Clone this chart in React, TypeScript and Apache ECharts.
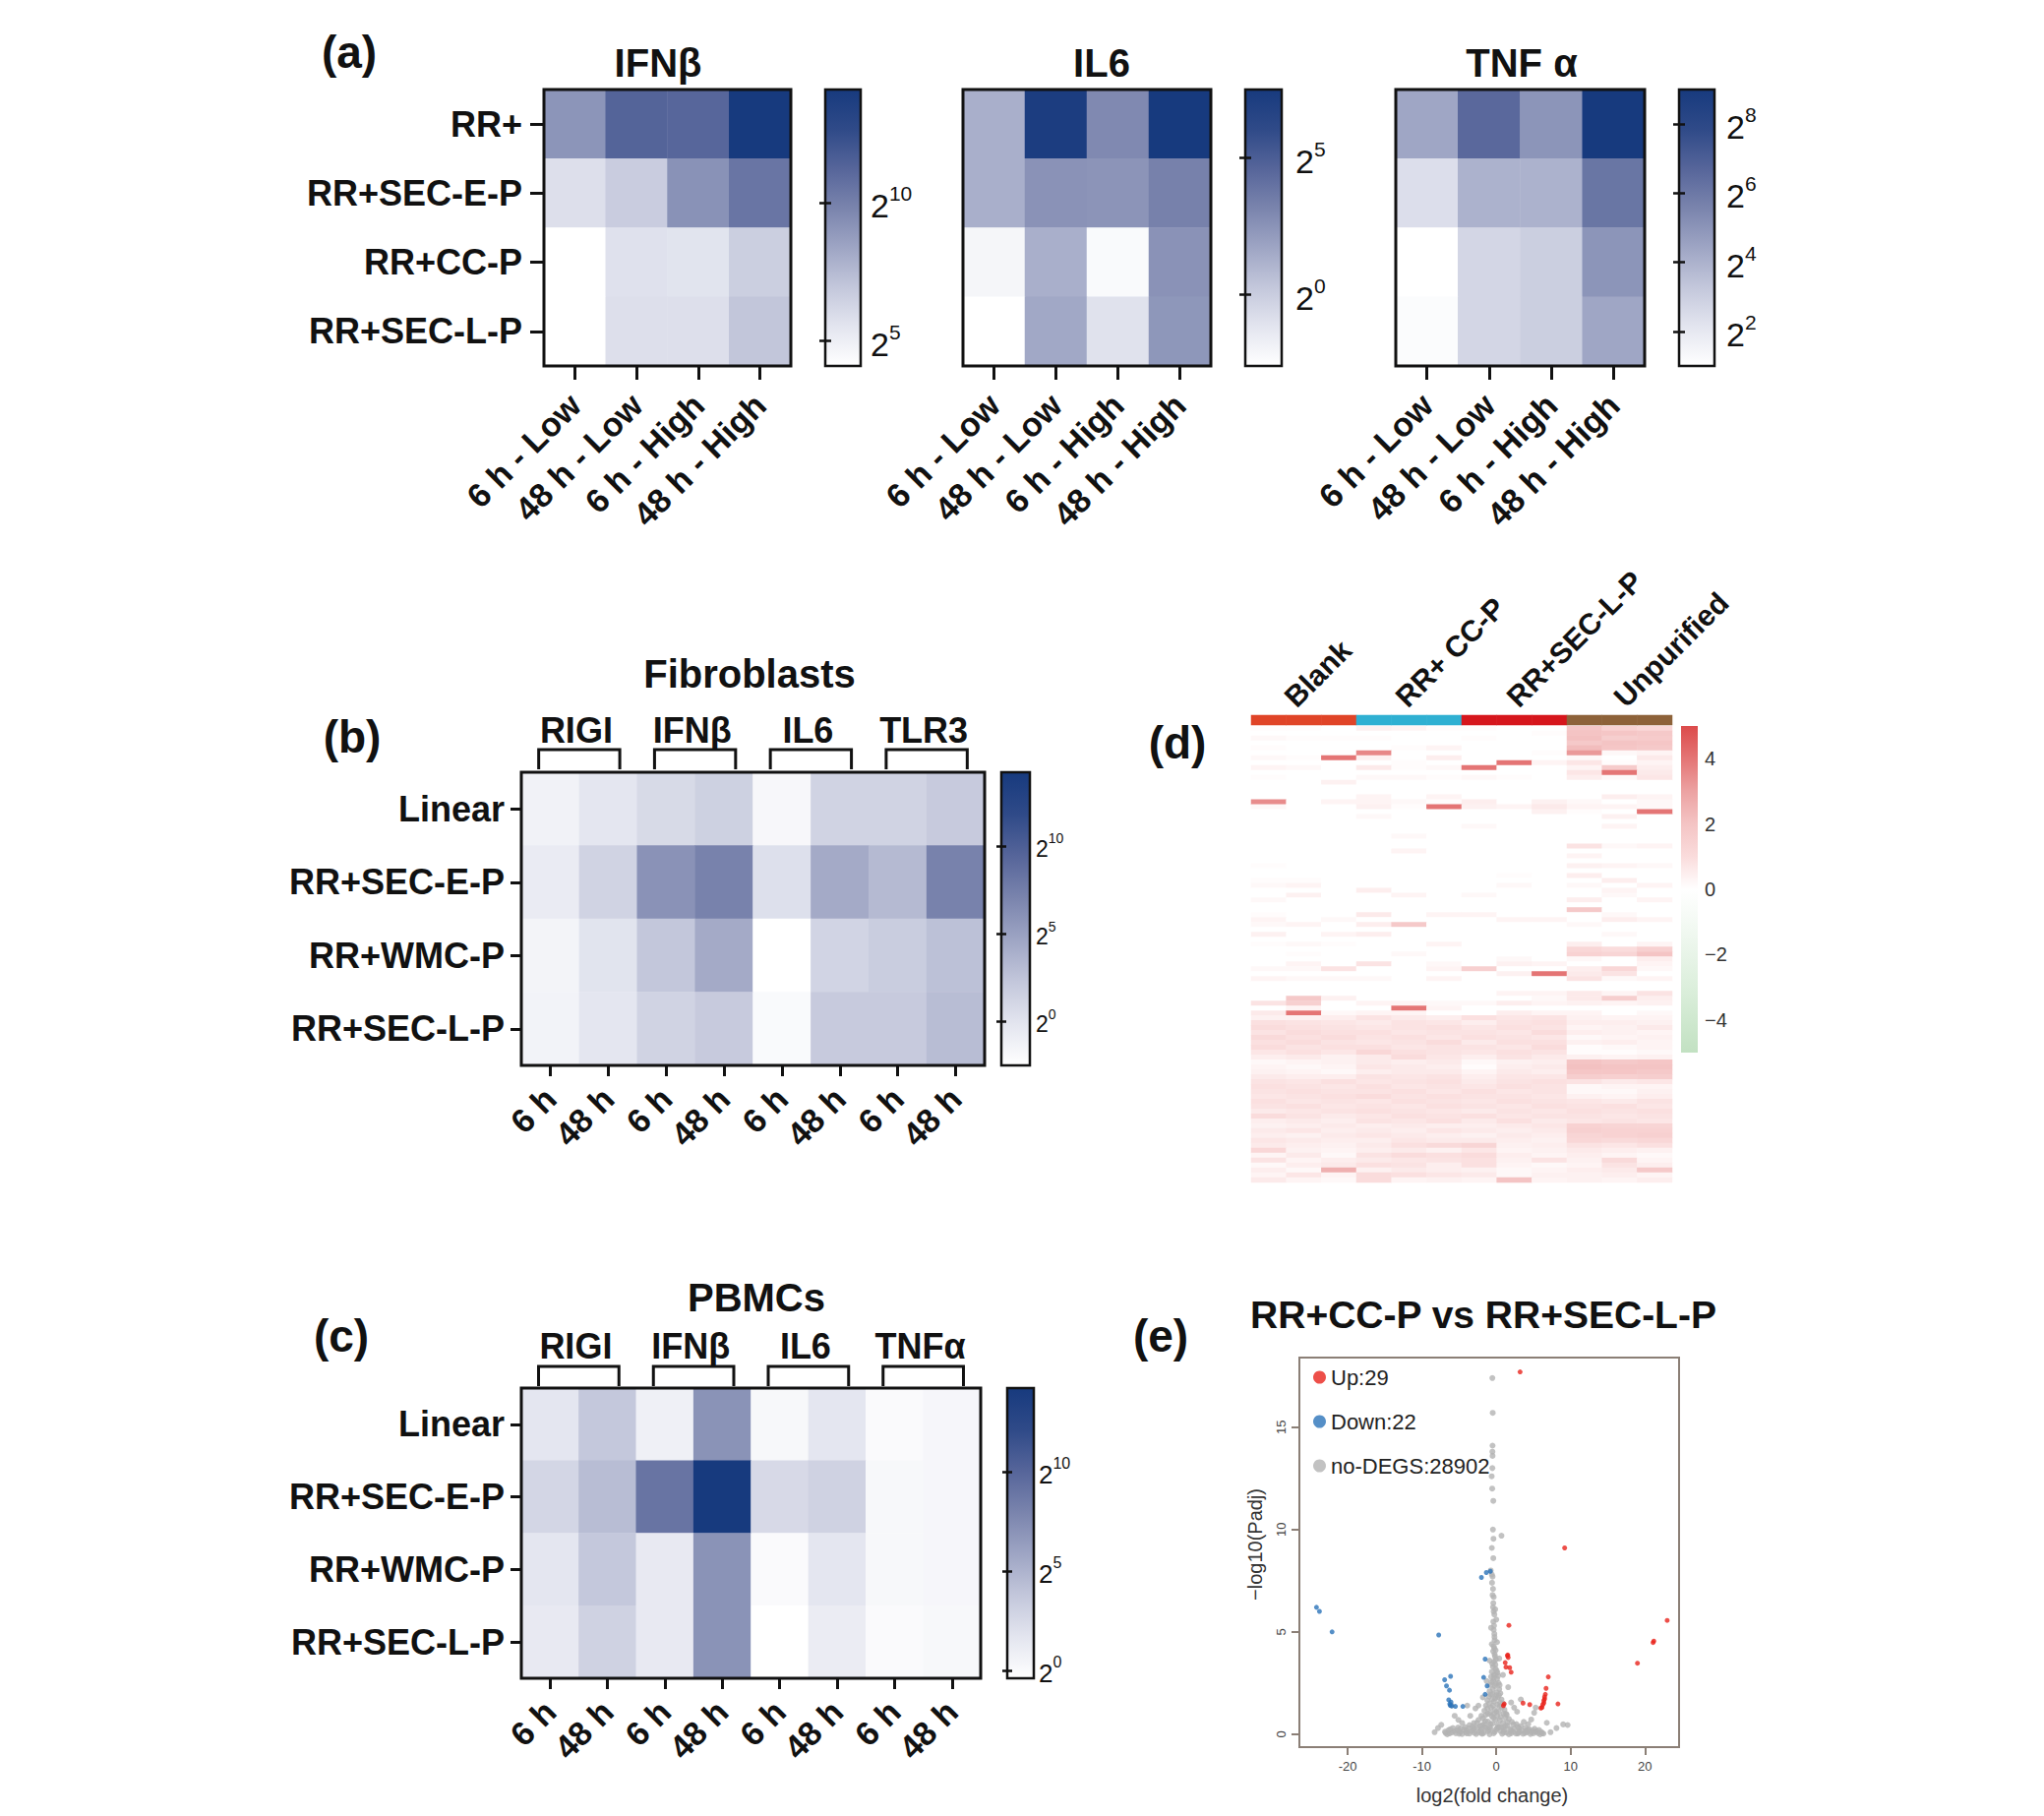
import React, { useEffect, useRef } from 'react';
import * as echarts from 'echarts';

const FONT = '"Liberation Sans", Arial, Helvetica, sans-serif';
const INK = '#111111';

// ---------------- DATA ----------------
// (a)
const aRows = ['RR+', 'RR+SEC-E-P', 'RR+CC-P', 'RR+SEC-L-P'];
const aCols = ['6 h - Low', '48 h - Low', '6 h - High', '48 h - High'];
const aTitles = ['IFNβ', 'IL6', 'TNF α'];
const aIFNb = [[9.1, 11.3, 11.2, 14.1], [5.8, 6.7, 9.2, 10.5], [4.1, 5.7, 5.6, 6.6], [4.1, 5.8, 5.8, 7.0]];
const aIL6 = [[1.3, 7.2, 2.95, 7.5], [1.3, 2.55, 2.45, 3.3], [-2.1, 1.3, -2.3, 2.55], [-2.6, 1.6, -1.0, 2.35]];
const aTNFa = [[4.4, 6.6, 5.0, 9.0], [2.4, 4.0, 4.0, 6.1], [1.0, 2.7, 3.0, 5.0], [1.15, 2.7, 3.0, 4.4]];
const aRanges = [[4.1, 14.1], [-2.6, 7.5], [1, 9]];
const aTicks = [[5, 10], [0, 5], [2, 4, 6, 8]];

// (b)
const bRows = ['Linear', 'RR+SEC-E-P', 'RR+WMC-P', 'RR+SEC-L-P'];
const bCols = ['6 h', '48 h', '6 h', '48 h', '6 h', '48 h', '6 h', '48 h'];
const bGenes = ['RIGI', 'IFNβ', 'IL6', 'TLR3'];
const bVals = [
  [-1.3, -0.2, 0.8, 1.5, -1.8, 1.3, 1.3, 2.0],
  [-0.7, 1.3, 6.0, 7.2, 0.3, 4.3, 3.2, 7.2],
  [-1.5, 0.0, 2.3, 4.3, -2.5, 1.2, 1.8, 2.7],
  [-1.4, -0.2, 1.3, 2.0, -2.0, 2.0, 2.0, 3.0],
];
const bRange = [-2.5, 14.2];
const bTicks = [0, 5, 10];

// (c)
const cRows = ['Linear', 'RR+SEC-E-P', 'RR+WMC-P', 'RR+SEC-L-P'];
const cCols = ['6 h', '48 h', '6 h', '48 h', '6 h', '48 h', '6 h', '48 h'];
const cGenes = ['RIGI', 'IFNβ', 'IL6', 'TNFα'];
const cVals = [
  [1.6, 3.7, 0.8, 7.0, 0.2, 1.6, 0.0, 0.3],
  [2.7, 4.4, 9.0, 14.2, 2.5, 3.0, 0.2, 0.3],
  [1.6, 3.7, 1.35, 7.0, 0.0, 1.6, 0.2, 0.3],
  [1.35, 3.0, 1.35, 7.0, -0.4, 1.1, 0.0, 0.2],
];
const cRange = [-0.4, 14.2];
const cTicks = [0, 5, 10];

// (d)
const dGroups = ['Blank', 'RR+ CC-P', 'RR+SEC-L-P', 'Unpurified'];
const dGroupColors = ['#e04427', '#2fb0d2', '#d6161c', '#8d6239'];
const dSamples = ['B1', 'B2', 'B3', 'C1', 'C2', 'C3', 'S1', 'S2', 'S3', 'U1', 'U2', 'U3'];
const dSampleGroup = [0, 0, 0, 1, 1, 1, 2, 2, 2, 3, 3, 3];
const dRange = [-5, 5];
const dTicks = [-4, -2, 0, 2, 4];
const dMatrix = [
  [0.1, 0.1, 0, 0.4, 0.3, 0.1, 0.1, 0, 0, 1.9, 1.4, 1.2],
  [0, 0, 0, 0, 0, 0, 0, 0, 0.1, 2.0, 1.9, 1.8],
  [0.2, 0.1, 0.1, 0.1, 0, 0, 0.1, 0, 0, 2.1, 1.6, 1.7],
  [0, 0, 0, 0, 0, 0, 0, 0, 0, 1.8, 2.0, 1.9],
  [0.1, 0, 0, 0, 0.1, 0.3, 0, 0, 0, 2.2, 1.9, 1.8],
  [0, 0, 0, 3.6, 0, 0, 0, 0, 0.1, 3.2, 0.2, 0.3],
  [0.2, 0.1, 4.0, 0.4, 0, 0.5, 0, 0, 0, 0.2, 0, 0.6],
  [0, 0, 0, 0, 0.1, 0, 0, 4.0, 0.3, 0.7, 0.1, 0.3],
  [0.3, 0.2, 0, 0.6, 0.1, 0.2, 4.0, 0, 0, 0.3, 1.7, 0.5],
  [0, 0, 0, 0, 0, 0, 0, 0, 0, 0.7, 4.0, 0.6],
  [0.1, 0, 0, 0.2, 0.2, 0.1, 0.2, 0.1, 0, 0.5, 0.2, 0.7],
  [0, 0, 0.4, 0, 0, 0, 0, 0, 0, 0, 0, 0],
  [0, 0, 0, 0, 0, 0, 0, 0, 0, 0, 0, 0],
  [0, 0, 0, 0, 0, 0, 0, 0, 0, 0, 0, 0],
  [0, 0, 0, 0.3, 0, 0.3, 0, 0, 0, 0, 0.5, 0.3],
  [3.5, 0, 0.3, 0.3, 0.2, 0.1, 0.5, 0, 0.4, 0.2, 0, 0.2],
  [0.2, 0, 0, 0.4, 0.1, 4.0, 0.4, 0.3, 0.6, 0.3, 0.3, 0.2],
  [0, 0, 0, 0, 0, 0, 0, 0, 0.4, 0.1, 0, 4.0],
  [0, 0, 0, 0.2, 0, 0, 0, 0, 0, 0, 0.4, 0],
  [0, 0, 0, 0, 0, 0, 0, 0, 0, 0, 0, 0],
  [0, 0, 0, 0, 0, 0, 0.2, 0, 0, 0, 0.3, 0],
  [0, 0, 0, 0, 0, 0, 0, 0, 0, 0, 0, 0],
  [0, 0, 0, 0, 0.2, 0, 0, 0, 0, 0, 0, 0],
  [0, 0, 0, 0, 0, 0, 0, 0, 0, 0, 0, 0],
  [0, 0, 0, 0, 0, 0, 0, 0, 0, 0.8, 0.2, 0.3],
  [0, 0, 0, 0, 0.3, 0, 0, 0, 0, 0, 0, 0],
  [0, 0, 0, 0, 0, 0, 0, 0, 0, 0.3, 0, 0],
  [0, 0, 0, 0, 0, 0, 0, 0, 0, 0, 0, 0],
  [0.1, 0, 0, 0, 0, 0, 0, 0, 0, 0.4, 0.3, 0.2],
  [0, 0, 0, 0, 0, 0, 0, 0, 0, 0, 0, 0],
  [0, 0, 0, 0, 0, 0, 0, 0.1, 0, 0.5, 0, 0],
  [0.1, 0.1, 0, 0, 0, 0, 0, 0, 0, 0, 0.5, 0],
  [0.2, 0.3, 0, 0, 0, 0, 0, 0.2, 0, 0.2, 0, 0.3],
  [0, 0, 0, 0.5, 0, 0, 0, 0, 0, 0, 0.3, 0],
  [0, 0.4, 0, 0, 0.3, 0, 0.2, 0, 0, 0, 0.2, 0],
  [0.2, 0, 0, 0, 0, 0, 0, 0, 0, 0.5, 0, 0.3],
  [0, 0, 0, 0, 0, 0, 0, 0, 0, 0, 0, 0],
  [0, 0, 0, 0, 0, 0, 0, 0, 0, 1.8, 0, 0],
  [0.1, 0, 0, 0.6, 0, 0.3, 0.3, 0, 0, 0, 0.2, 0],
  [0.3, 0, 0.2, 0, 0, 0, 0, 0.3, 0.3, 0, 0.5, 0.3],
  [0.2, 0.3, 0, 0.5, 1.8, 0, 0, 0, 0, 0.2, 0, 0],
  [0, 0, 0, 0, 0, 0, 0, 0, 0, 0, 0, 0],
  [0.4, 0, 0.3, 0.5, 0, 0, 0, 0, 0, 0, 0.2, 0],
  [0, 0, 0, 0, 0, 0, 0, 0, 0, 0, 0, 0],
  [0.1, 0.2, 0.1, 0, 0, 0.3, 0, 0, 0, 0.5, 0, 0.3],
  [0, 0, 0, 0, 0, 0, 0, 0, 0, 1.2, 1.0, 1.5],
  [0, 0.1, 0, 0, 0.2, 0, 0, 0, 0, 1.4, 1.3, 2.0],
  [0, 0, 0, 0, 0, 0, 0, 0.2, 0, 0.2, 0, 0.5],
  [0, 0.3, 0, 0.8, 0, 0.2, 0, 0.4, 0.3, 0, 0, 0.3],
  [0.2, 0.2, 0.8, 0, 0, 0.3, 1.5, 0, 0, 0.5, 1.2, 0.2],
  [0, 0, 0, 0, 0, 0, 0, 0.4, 4.0, 0.6, 0.8, 0],
  [0.3, 0.2, 0.2, 0.2, 0, 0.3, 0, 0, 0, 0.8, 0.2, 0.3],
  [0, 0, 0, 0, 0, 0, 0, 0, 0, 0, 0, 0],
  [0, 0, 0, 0, 0, 0, 0, 0, 0, 0, 0, 0],
  [0, 0, 0, 0, 0, 0, 0, 0.3, 0.3, 0.6, 0.3, 0.8],
  [0, 1.8, 0.4, 0, 0, 0, 0, 0, 0.2, 0.6, 1.6, 0.5],
  [0.8, 1.5, 0, 0.3, 0.3, 0.2, 0.2, 0.5, 0.3, 0.4, 0.3, 0.4],
  [0, 0.3, 0, 0, 4.0, 0.3, 0, 0, 0, 0, 0, 0],
  [0.6, 4.0, 0.2, 0.3, 0.3, 0, 0, 0.5, 0.3, 0.3, 0, 0.2],
  [0.4, 0.4, 0.5, 0.8, 0.6, 0.5, 0.9, 0.7, 0.8, 0.4, 0.3, 0.3],
  [0.9, 0.8, 0.7, 0.6, 0.8, 0.7, 0.5, 0.8, 0.9, 0.5, 0.5, 0.4],
  [1.0, 0.9, 0.8, 0.7, 0.8, 0.9, 0.7, 0.9, 0.8, 0.3, 0.4, 0.6],
  [0.8, 1.0, 0.9, 0.9, 0.7, 0.8, 0.8, 0.7, 1.0, 0.5, 0.4, 0.3],
  [1.1, 0.9, 1.0, 0.8, 0.9, 0.7, 0.9, 0.8, 0.7, 0.2, 0.3, 0.4],
  [0.9, 1.0, 0.8, 0.7, 0.8, 1.0, 0.6, 0.9, 0.9, 0.4, 0.5, 0.3],
  [1.0, 0.8, 0.9, 0.9, 0.7, 0.8, 0.8, 0.7, 1.0, 0.1, 0.2, 0.3],
  [0.7, 0.9, 0.7, 1.2, 0.9, 0.8, 0.7, 0.9, 0.8, 0.1, 0.1, 0.2],
  [0.5, 0.6, 0.4, 0.6, 1.0, 0.7, 0.5, 0.8, 0.6, 0.4, 0.3, 0.4],
  [0.2, 0.3, 0.4, 0.6, 0.5, 0.6, 0.2, 0.4, 0.5, 2.0, 1.8, 1.9],
  [0.3, 0.2, 0.3, 0.7, 0.6, 0.5, 0.1, 0.5, 0.6, 2.1, 2.0, 2.0],
  [0.4, 0.3, 0.2, 0.5, 0.6, 0.6, 0.3, 0.6, 0.5, 1.9, 1.9, 1.8],
  [0.6, 0.5, 0.5, 0.8, 0.7, 0.8, 0.5, 0.7, 0.7, 1.6, 1.5, 1.6],
  [0.8, 0.7, 0.9, 0.7, 0.8, 0.9, 0.6, 0.8, 0.9, 0.8, 0.6, 0.7],
  [0.9, 0.8, 0.7, 0.9, 0.7, 0.8, 0.7, 0.9, 0.8, 0.2, 0.3, 0.3],
  [0.8, 0.9, 0.8, 0.8, 0.9, 0.7, 0.9, 0.7, 0.8, 0.2, 0.2, 0.4],
  [0.7, 0.8, 0.9, 1.0, 0.8, 0.9, 0.8, 0.8, 0.7, 0.4, 0.3, 0.5],
  [0.9, 0.7, 0.8, 0.7, 0.9, 0.8, 0.7, 0.9, 0.8, 0.7, 0.6, 0.8],
  [0.8, 0.9, 0.7, 0.8, 0.7, 0.9, 0.8, 0.7, 0.9, 0.8, 0.9, 0.7],
  [0.6, 0.7, 0.8, 0.9, 0.8, 0.7, 0.6, 0.8, 0.7, 0.9, 0.8, 0.9],
  [1.0, 0.8, 0.6, 0.7, 0.9, 0.8, 0.9, 0.7, 0.8, 0.8, 0.7, 0.8],
  [0.5, 0.6, 0.5, 0.8, 0.7, 0.9, 0.6, 0.9, 0.6, 0.7, 0.8, 0.7],
  [0.4, 0.5, 0.6, 0.5, 0.6, 0.5, 0.5, 0.6, 0.7, 1.4, 1.3, 1.3],
  [0.6, 0.7, 0.5, 0.6, 0.5, 0.7, 0.6, 0.5, 0.6, 1.5, 1.4, 1.4],
  [0.5, 0.4, 0.6, 0.7, 0.6, 0.5, 0.4, 0.6, 0.5, 1.3, 1.4, 1.5],
  [0.7, 0.6, 0.5, 0.5, 0.7, 0.6, 0.6, 0.5, 0.4, 1.2, 1.1, 1.2],
  [0.6, 0.5, 0.4, 0.6, 0.9, 1.1, 1.3, 0.4, 0.5, 0.8, 0.7, 0.9],
  [1.2, 0.4, 0.3, 0.5, 0.6, 0.4, 0.7, 0.3, 0.4, 0.6, 0.5, 0.4],
  [0.3, 0.6, 0.2, 0.8, 1.0, 0.9, 1.0, 0.5, 0.3, 0.5, 0.3, 0.2],
  [0.8, 0.3, 0.5, 0.6, 0.7, 0.8, 0.9, 0.4, 0.8, 0.4, 1.1, 0.3],
  [0.2, 0.5, 0.6, 0.9, 0.8, 0.5, 0.9, 0.3, 0.2, 0.3, 0.8, 0.5],
  [0.5, 0.2, 2.6, 0.4, 0.6, 0.5, 0.4, 0.2, 0.3, 0.5, 0.6, 1.8],
  [0.3, 0.7, 0.3, 1.0, 0.9, 0.7, 0.6, 0.2, 0.4, 0.4, 0.5, 0.3],
  [0.6, 0.3, 0.2, 1.0, 0.3, 0.4, 0.3, 2.0, 0.3, 0.4, 0.3, 0.5],
];

// (e)
const eTitle = 'RR+CC-P vs RR+SEC-L-P';
const eUp = [[3.2, 17.7], [9.2, 9.1], [23.0, 5.56], [21.2, 4.55], [21.1, 4.48], [19.0, 3.47], [1.7, 5.32], [1.5, 3.84], [1.6, 3.75], [1.2, 3.5], [1.3, 3.28], [1.8, 3.25], [2.0, 3.03], [7.0, 2.8], [6.7, 2.24], [6.6, 1.95], [6.5, 1.82], [6.5, 1.72], [6.4, 1.65], [6.4, 1.53], [6.26, 1.45], [6.15, 1.31], [6.0, 1.28], [3.6, 1.52], [4.5, 1.45], [8.3, 1.48], [1.07, 1.48], [0.96, 1.4], [1.55, 3.87]];
const eDown = [[-24.2, 6.2], [-23.8, 6.0], [-22.1, 5.0], [-7.75, 4.85], [-2.0, 7.66], [-1.34, 7.9], [-0.8, 7.96], [-6.95, 2.66], [-6.15, 2.83], [-6.7, 2.36], [-6.3, 2.15], [-6.4, 1.68], [-6.26, 1.48], [-6.2, 1.41], [-6.1, 1.57], [-5.5, 1.36], [-4.5, 1.36], [-1.5, 3.67], [-1.7, 2.78], [-1.23, 2.36], [-1.5, 1.95], [-6.0, 1.38]];
const eGrey = [[-0.53, 17.4], [-0.48, 15.7], [-0.5, 14.1], [-0.52, 13.8], [-0.5, 13.6], [-0.53, 13.0], [-0.62, 12.6], [-0.55, 12.0], [-0.4, 11.4], [-0.45, 10.0], [0.7, 9.7], [-0.38, 9.55], [-0.6, 9.1], [-0.4, 8.6], [-0.75, 8.0], [-0.6, 7.8], [-0.5, 7.7], [-0.57, 7.4], [-0.44, 7.1], [-0.35, 6.7], [-0.4, 6.4], [-0.44, 6.2], [-0.35, 6.0], [-0.26, 5.85], [-0.4, 5.5], [-0.35, 5.1], [-0.26, 4.9], [-0.22, 4.6], [-0.35, 4.3], [-0.26, 4.2], [-0.22, 3.9], [-0.17, 3.8], [-0.3, 3.55], [-0.13, 3.4], [-0.45, 3.3], [-0.1, 3.2], [-0.6, 3.05], [0.15, 3.0], [-0.3, 2.9], [-0.7, 2.8], [0.1, 2.7], [-0.4, 2.6], [0.3, 2.5], [-0.8, 2.4], [-0.2, 2.35], [0.4, 2.2], [-0.9, 2.1], [0.55, 2.0], [-0.5, 1.95], [-1.0, 1.85], [0.2, 1.8], [0.7, 1.7], [-1.2, 1.65], [-0.3, 1.6], [0.9, 1.5], [-1.4, 1.4], [0.45, 1.35], [-0.7, 1.3], [1.1, 1.2], [-1.6, 1.15], [0.0, 1.1], [-1.1, 1.0], [1.4, 0.95], [-2.0, 0.9], [0.6, 0.85], [-0.4, 0.8], [1.7, 0.75], [-2.4, 0.7], [-1.5, 0.65], [2.1, 0.6], [0.9, 0.55], [-3.0, 0.55], [-0.8, 0.5], [2.7, 0.5], [-3.6, 0.45], [1.5, 0.42], [-2.2, 0.4], [3.3, 0.4], [-4.2, 0.35], [0.3, 0.35], [3.9, 0.32], [-1.3, 0.3], [-4.8, 0.28], [2.4, 0.27], [4.4, 0.25], [-3.1, 0.22], [-5.3, 0.2], [1.1, 0.2], [4.9, 0.18], [-2.1, 0.17], [-5.7, 0.14], [3.1, 0.14], [5.3, 0.12], [-0.2, 0.12], [-4.1, 0.1], [-6.0, 0.08], [4.1, 0.09], [5.6, 0.06], [-1.7, 0.06], [-6.3, 0.04], [2.0, 0.05], [-3.6, 0.03], [-5.0, 0.02], [0.8, 0.02], [3.6, 0.02], [-2.7, 0.01], [-6.6, 0.0], [5.9, 0.0], [4.6, 0.01], [-4.6, 0.01], [1.7, 0.0], [-0.9, 0.0], [-1.9, 0.02], [2.9, 0.03], [-6.0, 1.4], [-5.6, 0.9], [-5.1, 0.7], [-4.6, 0.55], [5.3, 1.3], [5.1, 1.05], [4.7, 0.72], [4.3, 0.5], [-7.85, 0.3], [-7.4, 0.46], [-6.8, 0.06], [-8.3, 0.1], [6.8, 0.56], [8.1, 0.3], [9.0, 0.48], [9.6, 0.45], [7.3, 0.1], [6.2, 0.05], [-3.9, 1.4], [-2.8, 1.26], [-2.4, 1.4], [2.0, 1.55], [2.4, 1.3], [1.3, 1.0], [3.3, 1.7], [2.8, 1.1], [-3.5, 0.9], [3.7, 0.6], [-1.8, 1.8], [1.6, 2.3], [-1.3, 2.6], [0.9, 2.9], [-0.9, 3.6], [0.4, 3.7], [-0.6, 4.4], [0.1, 4.5], [-0.7, 5.2], [0.0, 5.6], [-0.5, 6.8],
  [-6.9, 0.12], [-6.45, 0.2], [-5.85, 0.3], [-5.45, 0.05], [-5.15, 0.33], [-4.85, 0.11], [-4.35, 0.22], [-3.95, 0.04], [-3.75, 0.28], [-3.35, 0.15], [-2.95, 0.07], [-2.55, 0.31], [-2.35, 0.1], [-1.95, 0.24], [-1.55, 0.36], [-1.15, 0.14], [-0.75, 0.27], [-0.35, 0.05], [0.15, 0.3], [0.55, 0.16], [0.95, 0.33], [1.35, 0.08], [1.85, 0.25], [2.25, 0.12], [2.65, 0.03], [3.05, 0.29], [3.45, 0.17], [3.85, 0.06], [4.25, 0.22], [4.75, 0.09], [5.15, 0.27], [5.45, 0.15], [5.75, 0.21], [6.05, 0.11], [6.35, 0.03], [-6.2, 0.24], [-5.0, 0.15], [-4.0, 0.19], [-3.0, 0.3], [-2.0, 0.06], [-1.0, 0.2], [0.0, 0.25], [1.0, 0.1], [2.0, 0.2], [3.0, 0.08], [4.0, 0.16], [5.0, 0.05],
  [-0.25, 4.75], [-0.42, 4.05], [-0.05, 3.65], [-0.55, 3.45], [0.05, 3.1], [-0.35, 2.75], [0.25, 2.85], [-0.65, 2.55], [-0.05, 2.45], [0.45, 2.4], [-0.45, 2.2], [0.05, 2.05], [-0.75, 1.95], [0.35, 1.9], [-0.15, 1.75], [-0.55, 1.7], [0.5, 1.55], [-0.95, 1.5], [0.15, 1.45], [-0.45, 1.4], [0.75, 1.3], [-1.2, 1.25], [-0.2, 1.2], [0.35, 1.1], [-0.8, 1.05], [1.0, 1.0], [-1.4, 0.95], [0.1, 0.9], [-0.6, 0.88], [1.2, 0.8], [-1.8, 0.78], [-0.1, 0.7], [0.5, 0.68], [-1.1, 0.62], [1.5, 0.58], [-2.6, 0.55], [-0.5, 0.52], [2.3, 0.48], [0.2, 0.46], [-1.9, 0.45], [1.2, 0.4], [-3.2, 0.38], [-0.9, 0.36], [2.9, 0.35], [0.6, 0.34], [-1.6, 0.5], [-0.3, 1.0], [0.0, 1.9], [-0.2, 2.9], [-0.1, 4.1], [-0.3, 5.3], [-0.15, 6.1]];
const eXRange = [-26.5, 24.6];
const eYRange = [-0.63, 18.4];
const eXTicks = [-20, -10, 0, 10, 20];
const eYTicks = [0, 5, 10, 15];

// ---------------- STYLE / LAYOUT ----------------
const BLUES = ['#ffffff', '#e3e5ef', '#c3c7db', '#9ea5c4', '#7a84ad', '#56659a', '#2f4a88', '#173a7e'];
const REDGREEN = ['#c2e1c2', '#cfe8cf', '#dcefdc', '#e8f4e8', '#f4faf4', '#ffffff', '#fadcdc', '#f4c4c4', '#eca2a2', '#e47575', '#dc4b4b'];

function cells(m: number[][]) {
  const out: number[][] = [];
  m.forEach((row, r) => row.forEach((v, c) => out.push([c, r, v])));
  return out;
}

function buildOption() {
  const grids: any[] = [];
  const xAxes: any[] = [];
  const yAxes: any[] = [];
  const series: any[] = [];
  const vms: any[] = [];
  const gfx: any[] = [];

  const txt = (x: number, y: number, text: string, size: number, o: any = {}) =>
    gfx.push({
      type: 'text', x, y, rotation: o.rotation || 0, z: 50,
      style: {
        text, fontSize: size, fontWeight: o.weight || 'bold', fontFamily: FONT, fill: o.color || INK,
        textAlign: o.align || 'center', textVerticalAlign: o.valign || 'middle',
      },
    });

  const heat = (o: any) => {
    const gi = grids.length;
    grids.push({ left: o.left, top: o.top, width: o.w, height: o.h });
    const xi = xAxes.length;
    xAxes.push({
      gridIndex: gi, type: 'category', data: o.cols.map((c: string, i: number) => c + '|' + i), boundaryGap: true,
      show: o.axes !== false,
      axisLine: { show: false },
      axisTick: { show: true, alignWithLabel: true, length: o.tickLen, lineStyle: { color: INK, width: 3 } },
      axisLabel: {
        show: true, interval: 0, rotate: 45, margin: o.xMargin, fontSize: o.xFont, fontWeight: 'bold',
        fontFamily: FONT, color: INK, formatter: (v: string) => v.split('|')[0],
      },
      splitLine: { show: false },
    });
    const yi = yAxes.length;
    yAxes.push({
      gridIndex: gi, type: 'category', data: o.rows, inverse: true, boundaryGap: true,
      show: o.axes !== false,
      axisLine: { show: false },
      axisTick: { show: true, alignWithLabel: true, length: o.tickLen, lineStyle: { color: INK, width: 3 } },
      axisLabel: { show: true, interval: 0, margin: o.yMargin, fontSize: o.yFont, fontWeight: 'bold', fontFamily: FONT, color: INK },
      splitLine: { show: false },
    });
    const si = series.length;
    series.push({
      type: 'heatmap', xAxisIndex: xi, yAxisIndex: yi, data: cells(o.matrix),
      itemStyle: { borderWidth: 0 }, emphasis: { disabled: true }, silent: true,
    });
    vms.push({ type: 'continuous', show: false, seriesIndex: si, dimension: 2, min: o.min, max: o.max, inRange: { color: o.colors } });
    if (o.border) {
      gfx.push({ type: 'rect', z: 40, shape: { x: o.left, y: o.top, width: o.w, height: o.h }, style: { fill: 'none', stroke: INK, lineWidth: 3 } });
    }
  };

  const colorbar = (o: any) => {
    const gi = grids.length;
    grids.push({ left: o.left, top: o.top, width: o.w, height: o.h });
    xAxes.push({ gridIndex: gi, type: 'value', show: false, min: 0, max: 1 });
    yAxes.push({
      gridIndex: gi, type: 'value', min: o.min, max: o.max, position: 'right', z: 45,
      axisLine: { show: false }, splitLine: { show: false },
      axisTick: { show: o.tickLen > 0, inside: true, length: o.tickLen, customValues: o.ticks, lineStyle: { color: INK, width: 2.5 } },
      axisLabel: {
        show: true, customValues: o.ticks, margin: o.margin, formatter: o.formatter, rich: o.rich,
        fontSize: o.fontSize || 20, fontFamily: FONT, color: o.color || INK,
      },
    });
    if (o.tickLen > 0) {
      yAxes.push({
        gridIndex: gi, type: 'value', min: o.min, max: o.max, position: 'left', z: 45,
        axisLine: { show: false }, splitLine: { show: false },
        axisTick: { show: true, inside: true, length: o.tickLen, customValues: o.ticks, lineStyle: { color: INK, width: 2.5 } },
        axisLabel: { show: false },
      });
    }
    const stops = o.colors.map((c: string, i: number) => ({ offset: i / (o.colors.length - 1), color: c }));
    gfx.push({
      type: 'rect', z: 5, shape: { x: o.left, y: o.top, width: o.w, height: o.h },
      style: { fill: new echarts.graphic.LinearGradient(0, 1, 0, 0, stops), stroke: o.border ? INK : 'none', lineWidth: o.border ? 2.5 : 0 },
    });
  };

  const supFmt = (v: number) => `{b|2}{s|${v}}`;
  const supRich = (b: number, s: number) => ({
    b: { fontSize: b, fontFamily: FONT, color: INK, lineHeight: b + 6, verticalAlign: 'bottom' },
    s: { fontSize: s, fontFamily: FONT, color: INK, lineHeight: s + 2, verticalAlign: 'top' },
  });

  // ---------- (a) ----------
  const aLay = [
    { left: 553, w: 251, cbLeft: 839, cbW: 36, titleX: 669, margin: 10 },
    { left: 979, w: 252, cbLeft: 1266, cbW: 37, titleX: 1120, margin: 14 },
    { left: 1419, w: 253, cbLeft: 1707, cbW: 36, titleX: 1547, margin: 12 },
  ];
  const aMats = [aIFNb, aIL6, aTNFa];
  aLay.forEach((L, k) => {
    heat({
      left: L.left, top: 91, w: L.w, h: 281, rows: aRows, cols: aCols, matrix: aMats[k],
      min: aRanges[k][0], max: aRanges[k][1], colors: BLUES, border: true,
      tickLen: 14, xMargin: 34, yMargin: 22, xFont: 34, yFont: 36,
    });
    if (k > 0) yAxes[yAxes.length - 1].axisLabel.show = false;
    if (k > 0) yAxes[yAxes.length - 1].axisTick.show = false;
    colorbar({
      left: L.cbLeft, top: 91, w: L.cbW, h: 281, min: aRanges[k][0], max: aRanges[k][1], colors: BLUES,
      ticks: aTicks[k], tickLen: 6, margin: L.margin, formatter: supFmt, rich: supRich(34, 21), border: true,
    });
    txt(L.titleX, 64, aTitles[k], 40);
  });
  txt(355, 53, '(a)', 46);

  // ---------- (b) & (c) ----------
  const bc = [
    { left: 530, top: 785, w: 471, h: 298, cbLeft: 1018, cbW: 29, rows: bRows, cols: bCols, genes: bGenes, vals: bVals, range: bRange, ticks: bTicks,
      title: 'Fibroblasts', titleX: 762, titleY: 685, geneY: 742, brTop: 762, brBot: 782, letter: '(b)', lx: 358, ly: 749, cbMargin: 6, sup: [23, 14] },
    { left: 530, top: 1411, w: 467, h: 295, cbLeft: 1024, cbW: 27, rows: cRows, cols: cCols, genes: cGenes, vals: cVals, range: cRange, ticks: cTicks,
      title: 'PBMCs', titleX: 769, titleY: 1319, geneY: 1368, brTop: 1389, brBot: 1409, letter: '(c)', lx: 347, ly: 1358, cbMargin: 5, sup: [26, 16] },
  ];
  bc.forEach((P) => {
    heat({
      left: P.left, top: P.top, w: P.w, h: P.h, rows: P.rows, cols: P.cols, matrix: P.vals,
      min: P.range[0], max: P.range[1], colors: BLUES, border: true,
      tickLen: 11, xMargin: 28, yMargin: 17, xFont: 34, yFont: 36,
    });
    colorbar({
      left: P.cbLeft, top: P.top, w: P.cbW, h: P.h, min: P.range[0], max: P.range[1], colors: BLUES,
      ticks: P.ticks, tickLen: 5, margin: P.cbMargin, formatter: supFmt, rich: supRich(P.sup[0], P.sup[1]), border: true,
    });
    const colW = P.w / P.cols.length;
    P.genes.forEach((g, i) => {
      const cx = P.left + (2 * i + 1) * colW;
      txt(cx - 3, P.geneY, g, 36);
      const hw = colW * 0.7;
      gfx.push({
        type: 'polyline', z: 40,
        shape: { points: [[cx - hw, P.brBot], [cx - hw, P.brTop], [cx + hw, P.brTop], [cx + hw, P.brBot]] },
        style: { fill: 'none', stroke: INK, lineWidth: 3 },
      });
    });
    txt(P.titleX, P.titleY, P.title, 40);
    txt(P.lx, P.ly, P.letter, 46);
  });

  // ---------- (d) ----------
  const dL = { left: 1272, top: 738, w: 428, h: 464 };
  heat({
    left: dL.left, top: dL.top, w: dL.w, h: dL.h, rows: dMatrix.map((_, i) => 'g' + i), cols: dSamples, matrix: dMatrix,
    min: dRange[0], max: dRange[1], colors: REDGREEN, border: false, axes: false,
    tickLen: 0, xMargin: 0, yMargin: 0, xFont: 10, yFont: 10,
  });
  // annotation bar
  {
    const gi = grids.length;
    grids.push({ left: dL.left, top: 727, width: dL.w, height: 10 });
    const xi = xAxes.length;
    xAxes.push({ gridIndex: gi, type: 'category', data: dSamples, show: false });
    const yi = yAxes.length;
    yAxes.push({ gridIndex: gi, type: 'category', data: ['group'], show: false });
    const si = series.length;
    series.push({
      type: 'heatmap', xAxisIndex: xi, yAxisIndex: yi, silent: true, emphasis: { disabled: true },
      data: dSampleGroup.map((g, i) => [i, 0, g]),
    });
    vms.push({
      type: 'piecewise', show: false, seriesIndex: si, dimension: 2,
      pieces: dGroupColors.map((c, g) => ({ value: g, color: c })),
    });
  }
  colorbar({
    left: 1709, top: 738, w: 17, h: 332, min: dRange[0], max: dRange[1], colors: REDGREEN,
    ticks: dTicks, tickLen: 0, margin: 7, fontSize: 20, color: '#333',
    formatter: (v: number) => (v < 0 ? '\u2212' + Math.abs(v) : String(v)), border: false,
  });
  const dColW = dL.w / dSamples.length;
  const dLabelShift = [-4, 2, 8, 10];
  dGroups.forEach((g, i) => {
    const gx = dL.left + (3 * i + 1.5) * dColW + dLabelShift[i];
    txt(gx, 724, g, 30, { rotation: Math.PI / 4, align: 'left', valign: 'bottom' });
  });
  txt(1197, 755, '(d)', 46);

  // ---------- (e) ----------
  const eL = { left: 1321, top: 1380, w: 386, h: 396 };
  const BOX = '#8b7f76';
  {
    const gi = grids.length;
    grids.push({ left: eL.left, top: eL.top, width: eL.w, height: eL.h });
    const xi = xAxes.length;
    xAxes.push({
      gridIndex: gi, type: 'value', min: eXRange[0], max: eXRange[1], position: 'bottom',
      axisLine: { show: true, onZero: false, lineStyle: { color: BOX, width: 2 } },
      axisTick: { show: true, length: 8, customValues: eXTicks, lineStyle: { color: BOX, width: 2 } },
      axisLabel: { show: true, customValues: eXTicks, margin: 13, fontSize: 13, color: '#444', fontFamily: FONT },
      splitLine: { show: false },
    });
    const yi = yAxes.length;
    yAxes.push({
      gridIndex: gi, type: 'value', min: eYRange[0], max: eYRange[1], position: 'left',
      axisLine: { show: true, onZero: false, lineStyle: { color: BOX, width: 2 } },
      axisTick: { show: true, length: 8, customValues: eYTicks, lineStyle: { color: BOX, width: 2 } },
      axisLabel: { show: true, customValues: eYTicks, margin: 12, rotate: 90, fontSize: 13, color: '#444', fontFamily: FONT },
      splitLine: { show: false },
    });
    series.push({ name: 'no-DEGS:28902', type: 'scatter', xAxisIndex: xi, yAxisIndex: yi, data: eGrey, symbolSize: 6, itemStyle: { color: '#b3b3b3' }, silent: true });
    series.push({ name: 'Down:22', type: 'scatter', xAxisIndex: xi, yAxisIndex: yi, data: eDown, symbolSize: 5, itemStyle: { color: '#2b73b9' }, silent: true });
    series.push({ name: 'Up:29', type: 'scatter', xAxisIndex: xi, yAxisIndex: yi, data: eUp, symbolSize: 5, itemStyle: { color: '#e8231c' }, silent: true });
    gfx.push({ type: 'rect', z: 40, shape: { x: eL.left, y: eL.top, width: eL.w, height: eL.h }, style: { fill: 'none', stroke: BOX, lineWidth: 2 } });
  }
  txt(1508, 1336, eTitle, 39);
  txt(1180, 1358, '(e)', 46);
  txt(1517, 1825, 'log2(fold change)', 20, { weight: 'normal', color: '#333' });
  txt(1276, 1570, '\u2212log10(Padj)', 20, { weight: 'normal', color: '#333', rotation: Math.PI / 2 });

  return {
    animation: false,
    backgroundColor: '#ffffff',
    textStyle: { fontFamily: FONT },
    grid: grids,
    xAxis: xAxes,
    yAxis: yAxes,
    series,
    visualMap: vms,
    graphic: gfx,
    legend: {
      data: ['Up:29', 'Down:22', 'no-DEGS:28902'],
      orient: 'vertical', left: 1335, top: 1389, itemGap: 23, itemWidth: 13, itemHeight: 13, icon: 'circle',
      padding: 0, selectedMode: false,
      textStyle: { fontSize: 22, color: '#222', fontFamily: FONT },
    },
  };
}

export default function App() {
  const ref = useRef<HTMLDivElement>(null);
  useEffect(() => {
    document.body.style.margin = '0';
    const chart = echarts.init(ref.current!, null, { renderer: 'svg' });
    chart.setOption(buildOption() as any);
    return () => chart.dispose();
  }, []);
  return <div ref={ref} style={{ width: 2078, height: 1846, background: '#fff' }} />;
}
